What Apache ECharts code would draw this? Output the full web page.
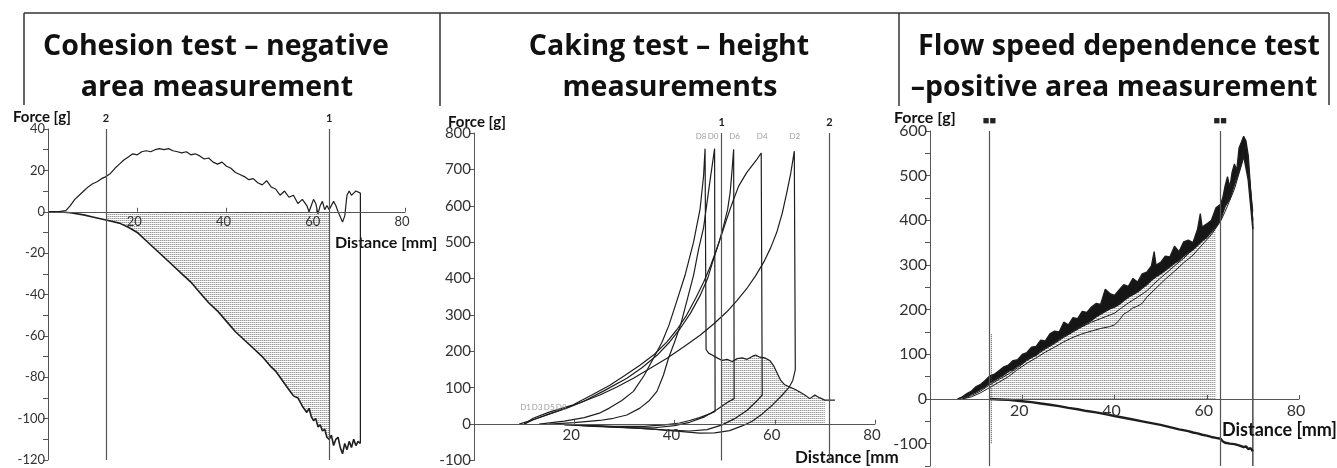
<!DOCTYPE html>
<html>
<head>
<meta charset="utf-8">
<script src="https://cdn.jsdelivr.net/npm/echarts@6/dist/echarts.min.js"></script>
<style>
html, body { margin: 0; padding: 0; background: #fff; }
#main { width: 1337px; height: 468px; }
</style>
</head>
<body>
<div id="main"></div>
<script>
// ---- titles ----
var titles = [
  ['Cohesion test \u2013 negative', 'area measurement'],
  ['Caking test \u2013 height', 'measurements'],
  ['Flow speed dependence test', '\u2013positive area measurement']
];
var xTicks = [0, 20, 40, 60, 80];

// ---- panel 1 : cohesion ----
var p1Push = [[0,0],[2,0],[4,0.5],[5,3],[6,6],[7,8],[8,10],[9,12],[10,13.5],[11,14.5],[12,16],[13,17],[14,18.5],[15,21],[16,23],[17,25],[18,26.5],[19,28],[20,27.5],[21,29],[22,29.5],[23,29],[24,30],[25,30.5],[26,30],[27,30.5],[28,29.5],[29,29],[30,28.5],[31,29],[32,27.5],[33,28],[34,27],[35,25.5],[36,26],[37,24],[38,23],[39,24],[40,22],[41,21],[42,19],[43,18],[44,17],[45,15.5],[46,16],[47,14],[48,13],[49,15],[50,12],[51,11],[52,8],[53,10],[54,7],[55,8],[56,4],[57,6],[58,3],[58.5,0],[59,3],[59.5,6],[60,4],[60.5,-1],[61,3],[61.5,5],[62,1],[62.5,3],[63,1],[64,5],[64.5,3],[65,0],[66,-5],[66.5,-2],[67,8],[67.5,10],[68,8],[68.5,9],[69,10],[70,9],[70,-112]];
var p1Pull = [[0,0],[2,0],[5,-0.5],[8,-1.5],[10,-2.5],[13,-4],[16,-5.5],[18,-7.5],[20,-10],[22,-14],[24,-18],[26,-22],[28,-26],[30,-30],[32,-34],[34,-39],[36,-44],[38,-48],[40,-53],[42,-58],[44,-62],[46,-66],[48,-70],[50,-75],[51,-77],[52,-80],[53,-83],[54,-86],[55,-89],[56,-90],[57,-94],[58,-97],[58.5,-95],[59,-99],[59.5,-101],[60,-100],[60.5,-104],[61,-103],[61.5,-106],[62,-105],[62.5,-109],[63,-110],[63.5,-108],[64,-113],[64.5,-110],[65,-109],[65.5,-114],[66,-117],[66.5,-112],[67,-115],[67.5,-111],[68,-114],[68.5,-110],[69,-113],[69.5,-111],[70,-112]];
var p1Marks = [13, 63];
var p1MarkNames = ['2', '1'];

// ---- panel 2 : caking ----
var p2D8 = [[13,0],[18,8],[22,18],[25,30],[27,44],[29.5,65],[31.8,90],[34,135],[35.8,181],[37.5,225],[38.9,272],[40.5,340],[42.1,409],[43.8,500],[45.1,591],[45.8,682],[46.1,757],[46.2,757],[46.3,205],[46.8,195],[47.5,190],[48.5,182],[49.5,175],[50.5,178],[51.5,172],[52.5,180],[53.5,182],[54.5,178],[55.5,186],[56.2,190],[57,184],[58,182],[59,175],[59.8,160],[60.5,140],[61.2,120],[62,108],[63,102],[64,96],[65,88],[66,80],[67,70],[68,80],[69,72],[70,66],[72,66]];
var p2D0 = [[15,0],[20,4],[25,10],[27.8,16],[30.5,25],[33.1,44],[35,65],[36.5,90],[37.8,135],[38.8,181],[40,225],[41.2,272],[42.5,340],[43.8,409],[44.8,480],[45.8,540],[46.5,610],[47.2,680],[48,757],[48.1,757],[48.1,35],[47,28],[45,18],[43,10],[41,3],[38,-2],[34,-6],[28,-6],[22,-3],[18,-1]];
var p2D6 = [[10,0],[11.8,12],[16,32],[21.8,62],[26,92],[30.5,126],[33.5,155],[36.5,189],[39,225],[41.1,262],[43.2,305],[45.1,353],[46.6,400],[47.8,454],[48.9,500],[49.8,545],[50.6,590],[51.1,636],[51.5,700],[51.8,755],[51.9,755],[51.9,70],[50.6,60],[48.5,40],[46,20],[43,5],[40,-4],[36,-10],[30,-10],[24,-6],[20,-3]];
var p2D4 = [[10,0],[11.8,16],[15,33],[19.8,53],[23.5,80],[27.1,107],[30,133],[33.1,162],[36,192],[38.5,226],[40.5,260],[42.4,299],[44.2,345],[45.8,390],[47.2,435],[48.4,481],[49.5,525],[50.4,563],[51.2,595],[51.8,618],[52.8,654],[54.4,691],[56.4,727],[57.3,745],[57.5,745],[57.5,80],[56.3,62],[54.5,38],[52,15],[49.5,-2],[46.5,-15],[43,-19],[38,-16],[31,-10],[24,-5],[20,-3]];
var p2D2 = [[9,0],[11.8,12],[15,28],[18.5,44],[21.8,62],[25.1,80],[28.5,102],[31.8,126],[35,152],[38.5,181],[41.8,212],[45.1,244],[47.8,275],[50.4,308],[52.5,340],[54.4,372],[56.2,408],[57.8,445],[59.2,485],[60.4,527],[61.5,580],[62.4,636],[63.2,690],[63.9,750],[64.1,750],[64.1,150],[63.6,120],[62.8,100],[61.5,80],[59.5,52],[57.5,28],[55.5,8],[53.5,-5],[51,-18],[48,-24],[45,-25],[41,-20],[35,-13],[28,-8],[22,-4],[18,-2]];
var p2PeakTags = [['D8',45.3,790],['D0',47.7,790],['D6',52,790],['D4',57.5,790],['D2',64,790]];
var p2StartTags = [['D1',10.3,45],['D3',12.6,45],['D5',15,45],['D8',17.4,45]];
var p2Marks = [49.4, 70.9];
var p2MarkNames = ['1', '2'];

// ---- panel 3 : flow speed (upper / lower edge of the dense bundle + thin runs) ----
var p3A = [[6,0],[7,5],[8,12],[9,18],[10,28],[11,33],[12,42],[13,52],[14,56],[15,64],[16,72],[17,76],[18,86],[19,88],[20,100],[21,104],[22,116],[23,118],[24,132],[25,130],[26,146],[27,152],[28,150],[29,172],[30,166],[31,182],[32,180],[33,196],[34,194],[35,206],[36,214],[37,212],[38,246],[39,236],[40,232],[41,244],[42,256],[43,252],[44,270],[45,262],[46,280],[47,284],[48,298],[48.6,330],[49,300],[50,306],[51,320],[52,318],[53,342],[54,330],[55,352],[56,356],[57,350],[58,380],[58.6,415],[59,385],[60,392],[61,400],[62,428],[63,436],[63.5,452],[64,478],[64.5,498],[65,474],[65.5,508],[66,526],[66.5,512],[67,562],[67.5,575],[68,588],[68.5,578],[69,545],[69.5,470],[70,395]];
var p3B = [[6,0],[8,6],[10,16],[12,28],[13,36],[14,42],[15,48],[16,54],[17,62],[18,66],[19,74],[20,80],[21,88],[22,94],[23,98],[24,108],[25,114],[26,120],[27,126],[28,134],[29,140],[30,146],[31,152],[32,158],[33,164],[34,170],[35,176],[36,184],[37,190],[38,196],[39,202],[40,206],[41,212],[42,220],[43,228],[44,234],[45,240],[46,248],[47,256],[48,266],[49,274],[50,280],[51,288],[52,296],[53,304],[54,310],[55,320],[56,328],[57,334],[58,344],[59,354],[60,362],[61,374],[62,386],[63,402],[64,432],[65,448],[66,480],[67,510],[68,545],[69,490],[70,380]];
var p3C = [[7,0],[9,5],[11,14],[13,26],[15,38],[17,50],[19,66],[21,80],[23,92],[25,105],[27,116],[29,128],[31,138],[33,146],[35,152],[37,158],[39,162],[40,166],[41,176],[42,190],[43,196],[44,204],[45,208],[46,214],[47,228],[49,248],[51,268],[53,286],[55,305],[57,322],[59,345],[61,368],[63,398],[64,420],[65,445],[66,470],[67,505],[68,540],[69,520],[70,420]];
var p3D = [[7,0],[9,8],[11,18],[13,32],[15,44],[17,56],[19,70],[21,86],[23,98],[25,112],[27,124],[29,138],[31,150],[33,162],[35,172],[37,180],[39,188],[40,192],[41,200],[43,215],[45,228],[47,242],[49,262],[51,280],[53,298],[55,315],[57,335],[59,355],[61,378],[63,410],[64,435],[65,460],[66,485],[67,525],[68,560],[68.5,570],[69,530],[70,400]];
var p3Pull = [[13,0],[15,-1],[17,-2],[19,-4],[20,-5],[22,-7],[24,-10],[26,-13],[28,-16],[30,-20],[32,-23],[34,-27],[36,-30],[38,-34],[40,-38],[42,-42],[44,-46],[46,-50],[48,-54],[50,-58],[52,-63],[54,-68],[56,-72],[57,-75],[58,-77],[59,-80],[60,-82],[61,-85],[62,-87],[63,-89],[63.5,-95],[64,-98],[65,-100],[66,-101],[67,-104],[68,-108],[68.5,-106],[69,-112],[69.5,-110],[70,-117]];
var p3EndLine = [[70,395],[70,-150]];
var p3Dotted = [[13.3,145],[13.3,-100]];
var p3Marks = [12.9, 62.9];
var p3MarkNames = ['\u25A0\u25A0', '\u25A0\u25A0'];

// hatch pattern for the measured area
function makePattern() {
  var c = document.createElement('canvas');
  c.width = 2; c.height = 2;
  var ctx = c.getContext('2d');
  ctx.fillStyle = '#fff';
  ctx.fillRect(0, 0, 2, 2);
  ctx.fillStyle = '#9a9a9a';
  ctx.fillRect(0, 0, 1, 1);
  ctx.fillStyle = '#d0d0d0';
  ctx.fillRect(1, 0, 1, 1);
  return { image: c, repeat: 'repeat' };
}
var hatch = makePattern();

var FONT = 'Lato, "Open Sans", sans-serif';
var TFONT = '"Open Sans", Lato, sans-serif';
var ink = '#1e1e1e';

function curve(data, idx, w, fill) {
  var s = {
    type: 'line', xAxisIndex: idx, yAxisIndex: idx, data: data,
    symbol: 'none', showSymbol: false, silent: true, z: 4,
    lineStyle: { color: ink, width: w || 1.2 }
  };
  if (fill) s.areaStyle = { color: fill, opacity: 1 };
  return s;
}

function shade(data, idx, from, to, marks, names) {
  return {
    type: 'line', xAxisIndex: idx, yAxisIndex: idx,
    data: data.filter(function (p) { return p[0] >= from && p[0] <= to; }),
    symbol: 'none', showSymbol: false, silent: true, z: 4,
    lineStyle: { width: 0 },
    areaStyle: { color: hatch, opacity: 1 },
    markLine: {
      symbol: 'none', silent: true, animation: false,
      lineStyle: { color: '#555', width: 1.2, type: 'solid' },
      label: { show: true, position: 'end', formatter: '{b}', fontFamily: FONT, fontWeight: 'bold', fontSize: 11, color: '#222', distance: 5 },
      data: marks.map(function (v, i) { return { xAxis: v, name: names[i] }; })
    }
  };
}

function tags(list, idx) {
  return {
    type: 'scatter', xAxisIndex: idx, yAxisIndex: idx, symbolSize: 0, silent: true, z: 5,
    data: list.map(function (t) { return { name: t[0], value: [t[1], t[2]] }; }),
    label: { show: true, position: 'inside', formatter: '{b}', fontFamily: FONT, fontSize: 8, color: '#888' }
  };
}

// x axis is lifted from the grid bottom to the zero line with a negative offset
function xAx(idx, fs, lift) {
  return {
    gridIndex: idx, type: 'value', min: xTicks[0], max: xTicks[xTicks.length - 1], interval: 20,
    offset: -lift, z: 10,
    axisLine: { show: true, onZero: false, lineStyle: { color: '#555', width: 1 } },
    axisTick: { show: true, inside: true, length: 4, lineStyle: { color: '#555' } },
    axisLabel: { fontFamily: FONT, fontSize: fs, color: '#333', margin: 4, padding: [0, 6, 0, 0], formatter: function (v) { return v === 0 ? '' : v; } },
    splitLine: { show: false }
  };
}

function yAx(idx, min, max, step, labStep, fs) {
  return {
    gridIndex: idx, type: 'value', min: min, max: max, interval: step, z: 10,
    axisLine: { show: true, onZero: false, lineStyle: { color: '#555', width: 1 } },
    axisTick: { show: true, length: 5, lineStyle: { color: '#555' } },
    axisLabel: { fontFamily: FONT, fontSize: fs, color: '#333', margin: 3, formatter: function (v) { return v % labStep === 0 ? v : ''; } },
    splitLine: { show: false }
  };
}

function txt(x, y, s, size, bold, align, fam) {
  return { type: 'text', x: x, y: y, silent: true, style: { text: s, fontFamily: fam || FONT, fontSize: size, fontWeight: bold ? 'bold' : 'normal', fill: '#111', align: align || 'left', verticalAlign: 'middle' } };
}
function seg(x1, y1, x2, y2) {
  return { type: 'line', silent: true, shape: { x1: x1, y1: y1, x2: x2, y2: y2 }, style: { stroke: '#333', lineWidth: 1.5 } };
}

var chart = echarts.init(document.getElementById('main'));
var option = {
  animation: false,
  backgroundColor: '#fff',
  grid: [
    { left: 48, top: 129, width: 357, height: 331 },
    { left: 474, top: 133, width: 401, height: 330 },
    { left: 930, top: 131, width: 369, height: 335 }
  ],
  // lift = distance from grid bottom to the y = 0 line
  xAxis: [xAx(0, 13, 331 * 120 / 160), xAx(1, 15, 330 * 100 / 900), xAx(2, 16, 335 * 150 / 750)],
  yAxis: [yAx(0, -120, 40, 10, 20, 13), yAx(1, -100, 800, 100, 100, 15), yAx(2, -150, 600, 50, 100, 16)],
  series: [
    shade(p1Pull, 0, 13, 63, p1Marks, p1MarkNames),
    curve(p1Push, 0), curve(p1Pull, 0, 1.6),
    shade(p2D8, 1, 49.4, 71, p2Marks, p2MarkNames),
    curve(p2D8, 1), curve(p2D0, 1), curve(p2D6, 1), curve(p2D4, 1), curve(p2D2, 1),
    tags(p2PeakTags, 1), tags(p2StartTags, 1),
    curve(p3A, 2, 1.3, '#161616'),
    curve(p3B, 2, 1.5, '#ffffff'),
    shade(p3B, 2, 12.9, 62.9, p3Marks, p3MarkNames),
    curve(p3C, 2, 1), curve(p3D, 2, 1),
    curve(p3Pull, 2, 2.4),
    curve(p3EndLine, 2, 1.2),
    { type: 'line', xAxisIndex: 2, yAxisIndex: 2, data: p3Dotted, symbol: 'none', silent: true, z: 5, lineStyle: { color: '#444', width: 1, type: 'dotted' } }
  ],
  graphic: [
    seg(24, 13, 1329, 13), seg(24, 13, 24, 105), seg(440, 13, 440, 106), seg(899, 13, 899, 106), seg(1329, 13, 1329, 105),
    txt(216, 47, titles[0][0], 28.5, true, 'center', TFONT), txt(217, 88, titles[0][1], 28.5, true, 'center', TFONT),
    txt(669, 47, titles[1][0], 28.5, true, 'center', TFONT), txt(670, 88, titles[1][1], 28.5, true, 'center', TFONT),
    txt(1119, 47, titles[2][0], 28.5, true, 'center', TFONT), txt(1114, 88, titles[2][1], 28.5, true, 'center', TFONT),
    txt(13, 117, 'Force [g]', 15, true), txt(448, 122, 'Force [g]', 15, true), txt(894, 118, 'Force [g]', 16, true),
    txt(335, 243, 'Distance [mm]', 16, true), txt(795, 458, 'Distance [mm', 17, true), txt(1222, 430, 'Distance [mm]', 18, true)
  ]
};
chart.setOption(option);
</script>
</body>
</html>
